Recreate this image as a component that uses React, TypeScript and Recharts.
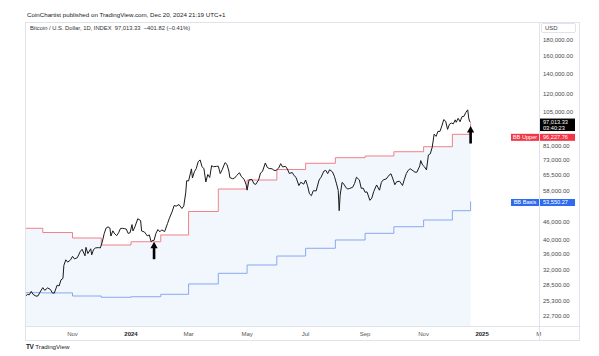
import React from "react";
import { Area, ComposedChart, Line, ReferenceDot, ReferenceLine, XAxis, YAxis } from "recharts";

const DAY0 = Date.UTC(2024, 0, 1);
const toDay = (s: string) => (Date.parse(s + "T00:00:00Z") - DAY0) / 86400000;

// daily closes (roughly every 2-3 days)
const price2023: [string, number][] = [
  ["2023-09-13", 26230], ["2023-09-15", 26600], ["2023-09-17", 26530], ["2023-09-19", 27200],
  ["2023-09-21", 26580], ["2023-09-24", 26250], ["2023-09-26", 26300], ["2023-09-28", 27020],
  ["2023-10-01", 27990], ["2023-10-03", 27430], ["2023-10-06", 27930], ["2023-10-09", 27600],
  ["2023-10-11", 26880], ["2023-10-13", 26860], ["2023-10-16", 28520], ["2023-10-18", 28330],
  ["2023-10-20", 29670], ["2023-10-22", 29990], ["2023-10-23", 33090], ["2023-10-25", 34500],
  ["2023-10-27", 33900], ["2023-10-30", 34500], ["2023-11-01", 35420], ["2023-11-03", 34730],
  ["2023-11-06", 35050], ["2023-11-09", 36690], ["2023-11-11", 37310], ["2023-11-14", 35550],
  ["2023-11-15", 37880], ["2023-11-17", 36160], ["2023-11-20", 37480], ["2023-11-21", 35810],
  ["2023-11-23", 37300], ["2023-11-25", 37720], ["2023-11-28", 37820], ["2023-11-30", 37720],
  ["2023-12-02", 39460], ["2023-12-04", 41980], ["2023-12-06", 43790], ["2023-12-08", 44200],
  ["2023-12-10", 43790], ["2023-12-11", 41240], ["2023-12-13", 42890], ["2023-12-15", 41930],
  ["2023-12-17", 41370], ["2023-12-19", 42260], ["2023-12-21", 43660], ["2023-12-23", 43710],
  ["2023-12-25", 43610], ["2023-12-27", 43470], ["2023-12-29", 42070], ["2023-12-31", 42280],
];

const price2024: [string, number][] = [
  ["2024-01-02", 44950], ["2024-01-03", 42850], ["2024-01-05", 44160], ["2024-01-08", 46970],
  ["2024-01-11", 46340], ["2024-01-12", 42850], ["2024-01-15", 42520], ["2024-01-18", 41280],
  ["2024-01-20", 41620], ["2024-01-22", 39510], ["2024-01-23", 39850], ["2024-01-25", 39940],
  ["2024-01-27", 42120], ["2024-01-29", 43300], ["2024-01-31", 42580], ["2024-02-02", 43200],
  ["2024-02-05", 42660], ["2024-02-08", 45290], ["2024-02-10", 47150], ["2024-02-13", 49700],
  ["2024-02-15", 51900], ["2024-02-17", 51620], ["2024-02-20", 52260], ["2024-02-23", 50730],
  ["2024-02-25", 51730], ["2024-02-27", 57050], ["2024-02-28", 62500], ["2024-03-01", 62430],
  ["2024-03-04", 68330], ["2024-03-05", 63800], ["2024-03-07", 66850], ["2024-03-09", 68500],
  ["2024-03-11", 72120], ["2024-03-13", 73080], ["2024-03-15", 69500], ["2024-03-17", 68390],
  ["2024-03-19", 61930], ["2024-03-21", 65490], ["2024-03-23", 64050], ["2024-03-25", 69990],
  ["2024-03-27", 69470], ["2024-03-30", 69640], ["2024-04-01", 69730], ["2024-04-03", 65950],
  ["2024-04-05", 67880], ["2024-04-08", 71630], ["2024-04-10", 70650], ["2024-04-12", 67190],
  ["2024-04-13", 64000], ["2024-04-16", 63430], ["2024-04-18", 63810], ["2024-04-20", 64940],
  ["2024-04-23", 66410], ["2024-04-25", 64490], ["2024-04-28", 63120], ["2024-04-30", 60640],
  ["2024-05-01", 58250], ["2024-05-03", 62890], ["2024-05-06", 63160], ["2024-05-08", 61190],
  ["2024-05-10", 60800], ["2024-05-13", 62900], ["2024-05-15", 66250], ["2024-05-17", 67000],
  ["2024-05-20", 71450], ["2024-05-22", 69120], ["2024-05-24", 68520], ["2024-05-27", 68370],
  ["2024-05-29", 67580], ["2024-05-31", 67490], ["2024-06-03", 68800], ["2024-06-05", 71080],
  ["2024-06-07", 69320], ["2024-06-10", 69660], ["2024-06-12", 68250], ["2024-06-14", 66000],
  ["2024-06-17", 66500], ["2024-06-19", 64960], ["2024-06-21", 64100], ["2024-06-24", 60280],
  ["2024-06-26", 61800], ["2024-06-29", 60930], ["2024-07-01", 62850], ["2024-07-03", 60210],
  ["2024-07-05", 56660], ["2024-07-07", 55860], ["2024-07-09", 57990], ["2024-07-12", 57900],
  ["2024-07-15", 62850], ["2024-07-17", 64100], ["2024-07-20", 67150], ["2024-07-22", 67580],
  ["2024-07-24", 65930], ["2024-07-26", 67900], ["2024-07-29", 66810], ["2024-07-31", 64620],
  ["2024-08-02", 61400], ["2024-08-04", 58110], ["2024-08-05", 49900], ["2024-08-06", 56030],
  ["2024-08-08", 61710], ["2024-08-10", 60880], ["2024-08-12", 59350], ["2024-08-14", 58740],
  ["2024-08-16", 59010], ["2024-08-19", 59490], ["2024-08-21", 61170], ["2024-08-23", 64180],
  ["2024-08-26", 62880], ["2024-08-28", 59030], ["2024-08-30", 59120], ["2024-09-01", 57320],
  ["2024-09-03", 57470], ["2024-09-06", 53950], ["2024-09-08", 54840], ["2024-09-10", 57640],
  ["2024-09-13", 60550], ["2024-09-16", 58210], ["2024-09-18", 61770], ["2024-09-20", 62950],
  ["2024-09-23", 63330], ["2024-09-26", 65180], ["2024-09-28", 65860], ["2024-09-30", 63330],
  ["2024-10-02", 60650], ["2024-10-04", 62080], ["2024-10-07", 62220], ["2024-10-10", 60300],
  ["2024-10-12", 63200], ["2024-10-14", 65980], ["2024-10-16", 67600], ["2024-10-18", 68400],
  ["2024-10-21", 67380], ["2024-10-23", 66650], ["2024-10-25", 66640], ["2024-10-28", 69910],
  ["2024-10-29", 72720], ["2024-10-31", 70280], ["2024-11-02", 69360], ["2024-11-04", 67810],
  ["2024-11-06", 75860], ["2024-11-08", 76550], ["2024-11-10", 80470], ["2024-11-12", 88700],
  ["2024-11-14", 87250], ["2024-11-16", 90600], ["2024-11-18", 90500], ["2024-11-20", 94300],
  ["2024-11-22", 98990], ["2024-11-24", 97700], ["2024-11-26", 91960], ["2024-11-28", 95650],
  ["2024-11-30", 96450], ["2024-12-02", 95860], ["2024-12-04", 98770], ["2024-12-05", 96990],
  ["2024-12-07", 99920], ["2024-12-09", 97400], ["2024-12-11", 101170], ["2024-12-13", 101400],
  ["2024-12-15", 104460], ["2024-12-17", 106500], ["2024-12-18", 100200], ["2024-12-19", 97460],
  ["2024-12-20", 97013.33],
];

// monthly Bollinger band steps
const bbUpper: [string, number][] = [
  ["2023-09-13", 43720], ["2023-10-01", 42350], ["2023-11-01", 40640], ["2023-12-01", 38560],
  ["2024-01-01", 39520], ["2024-02-01", 41580], ["2024-03-01", 49600], ["2024-04-01", 58740],
  ["2024-05-01", 62850], ["2024-06-01", 68000], ["2024-07-01", 71260], ["2024-08-01", 74320],
  ["2024-09-01", 75280], ["2024-10-01", 77740], ["2024-11-01", 80720], ["2024-12-01", 88610],
  ["2024-12-20", 96227.76],
];

const bbBasis: [string, number][] = [
  ["2023-09-13", 26950], ["2023-10-01", 26900], ["2023-11-01", 26280], ["2023-12-01", 26030],
  ["2024-01-01", 26140], ["2024-02-01", 26620], ["2024-03-01", 28770], ["2024-04-01", 31170],
  ["2024-05-01", 33180], ["2024-06-01", 35490], ["2024-07-01", 37620], ["2024-08-01", 40040],
  ["2024-09-01", 42100], ["2024-10-01", 44240], ["2024-11-01", 46530], ["2024-12-01", 49900],
  ["2024-12-20", 53550.27],
];

const signals: [string, number][] = [["2024-01-25", 39530], ["2024-12-20", 94300]];

const xTickDates = ["2023-11-01", "2024-01-01", "2024-03-01", "2024-05-01", "2024-07-01", "2024-09-01", "2024-11-01", "2025-01-01", "2025-03-01"];
const xTickLabels = ["Nov", "2024", "Mar", "May", "Jul", "Sep", "Nov", "2025", "M"];
const yTicks = [22700, 25300, 28500, 32000, 36000, 40000, 46000, 58000, 65500, 73000, 81000, 105000, 120000, 140000, 160000, 180000];

const FONT = "'Liberation Sans', Arial, sans-serif";
const BORDER = "#e0e3eb";

const rows = (list: [string, number][]) => list.map(([d, v]) => ({ d: toDay(d), v }));
const priceRows = rows([...price2023, ...price2024]);
const upperRows = rows(bbUpper);
const basisRows = rows(bbBasis);
const xTicks = xTickDates.map(toDay);

const fmt = (v: number) => v.toLocaleString("en-US", { minimumFractionDigits: 2, maximumFractionDigits: 2 });

function XTick({ x, y, payload }: any) {
  const label = xTickLabels[xTicks.indexOf(payload.value)] ?? "";
  const year = /^\d{4}$/.test(label);
  return (
    <text x={x} y={y + 2} textAnchor="middle" fontSize={6} fontFamily={FONT} fill={year ? "#222" : "#555"} fontWeight={year ? 700 : 400}>
      {label}
    </text>
  );
}

function Tag({ viewBox, lines, bg, dy, side }: any) {
  const x = viewBox.x + viewBox.width;
  const h = lines.length > 1 ? 12.5 : 7;
  const top = lines.length > 1 ? viewBox.y + dy : viewBox.y + dy - h / 2;
  return (
    <g fontFamily={FONT} fontSize={5.6}>
      {side && (
        <>
          <rect x={x - 28} y={top} width={28} height={h} fill={bg} />
          <text x={x - 14} y={top + 5.4} textAnchor="middle" fill="#fff">{side}</text>
        </>
      )}
      <rect x={x + 1} y={top} width={35} height={h} fill={bg} />
      {lines.map((t: string, i: number) => (
        <text key={i} x={x + 4} y={top + 5.4 + i * 6} fill="#fff">{t}</text>
      ))}
    </g>
  );
}

function UpArrow({ cx, cy }: any) {
  return (
    <g fill="#000">
      <polygon points={`${cx},${cy} ${cx - 3.6},${cy + 6.5} ${cx + 3.6},${cy + 6.5}`} />
      <rect x={cx - 1.3} y={cy + 6} width={2.6} height={11.5} />
    </g>
  );
}

export default function App() {
  const line = (style: React.CSSProperties) => <div style={{ position: "absolute", background: BORDER, ...style }} />;
  return (
    <div style={{ position: "absolute", left: 0, top: 0, width: 599, height: 356, background: "#fff", fontFamily: FONT, overflow: "hidden" }}>
      <ComposedChart width={599} height={356} margin={{ top: 22, right: 20, bottom: 16, left: 26 }}>
        <XAxis
          dataKey="d"
          type="number"
          domain={[-109.5, 425.3]}
          allowDataOverflow
          ticks={xTicks}
          interval={0}
          tick={<XTick />}
          tickLine={false}
          axisLine={false}
          height={14}
        />
        <YAxis
          orientation="right"
          scale="log"
          domain={[20977, 206090]}
          allowDataOverflow
          ticks={yTicks}
          interval={0}
          tickFormatter={fmt}
          tick={{ fontSize: 6, fontFamily: FONT, fill: "#4a4a4a" }}
          tickLine={false}
          tickSize={4}
          tickMargin={0}
          axisLine={false}
          width={40}
        />
        <Area data={upperRows} dataKey="v" type="stepAfter" stroke="none" fill="#f2f7fd" fillOpacity={1} isAnimationActive={false} />
        <Line data={basisRows} dataKey="v" type="stepAfter" stroke="#7b9ff0" strokeWidth={0.9} dot={false} isAnimationActive={false} />
        <Line data={upperRows} dataKey="v" type="stepAfter" stroke="#f0737b" strokeWidth={0.9} dot={false} isAnimationActive={false} />
        <Line data={priceRows} dataKey="v" type="linear" stroke="#1a1a1a" strokeWidth={1} dot={false} isAnimationActive={false} />
        {signals.map(([d, v]) => (
          <ReferenceDot key={d} x={toDay(d)} y={v} ifOverflow="visible" shape={<UpArrow />} />
        ))}
        <ReferenceLine y={53550.27} stroke="none" ifOverflow="visible"
          label={(p: any) => <Tag viewBox={p.viewBox} lines={[fmt(53550.27)]} bg="#2f6bf0" dy={1.2} side="BB Basis" />} />
        <ReferenceLine y={96227.76} stroke="none" ifOverflow="visible"
          label={(p: any) => <Tag viewBox={p.viewBox} lines={[fmt(96227.76)]} bg="#f23645" dy={14} side="BB Upper" />} />
        <ReferenceLine y={97013.33} stroke="none" ifOverflow="visible"
          label={(p: any) => <Tag viewBox={p.viewBox} lines={[fmt(97013.33), "03:40:23"]} bg="#000" dy={-3.7} />} />
      </ComposedChart>

      {line({ left: 25, top: 22, width: 555, height: 1 })}
      {line({ left: 25, top: 22, width: 1, height: 319 })}
      {line({ left: 579, top: 22, width: 1, height: 319 })}
      {line({ left: 539, top: 22, width: 1, height: 319 })}
      {line({ left: 25, top: 326, width: 555, height: 1 })}
      {line({ left: 25, top: 340, width: 555, height: 1 })}

      <div style={{ position: "absolute", left: 27, top: 11, fontSize: 6.2, color: "#222", whiteSpace: "nowrap" }}>
        CoinChartist published on TradingView.com, Dec 20, 2024 21:19 UTC+1
      </div>
      <div style={{ position: "absolute", left: 30, top: 24.5, fontSize: 5.8, color: "#333", whiteSpace: "nowrap" }}>
        Bitcoin / U.S. Dollar, 1D, INDEX&nbsp;&nbsp;97,013.33&nbsp;&nbsp;−401.82 (−0.41%)
      </div>
      <div style={{ position: "absolute", left: 541, top: 22.5, width: 35, height: 10, border: `1px solid ${BORDER}`, borderRadius: 2, boxSizing: "border-box", fontSize: 6, color: "#444", paddingLeft: 3, lineHeight: "9px", background: "#fff" }}>
        USD
      </div>
      <div style={{ position: "absolute", left: 26, top: 343, fontSize: 6.2, color: "#222", whiteSpace: "nowrap", display: "flex", alignItems: "center", gap: 2 }}>
        <span style={{ fontWeight: 900, fontSize: 6.5, letterSpacing: -0.5 }}>TV</span>
        <span>TradingView</span>
      </div>
    </div>
  );
}
